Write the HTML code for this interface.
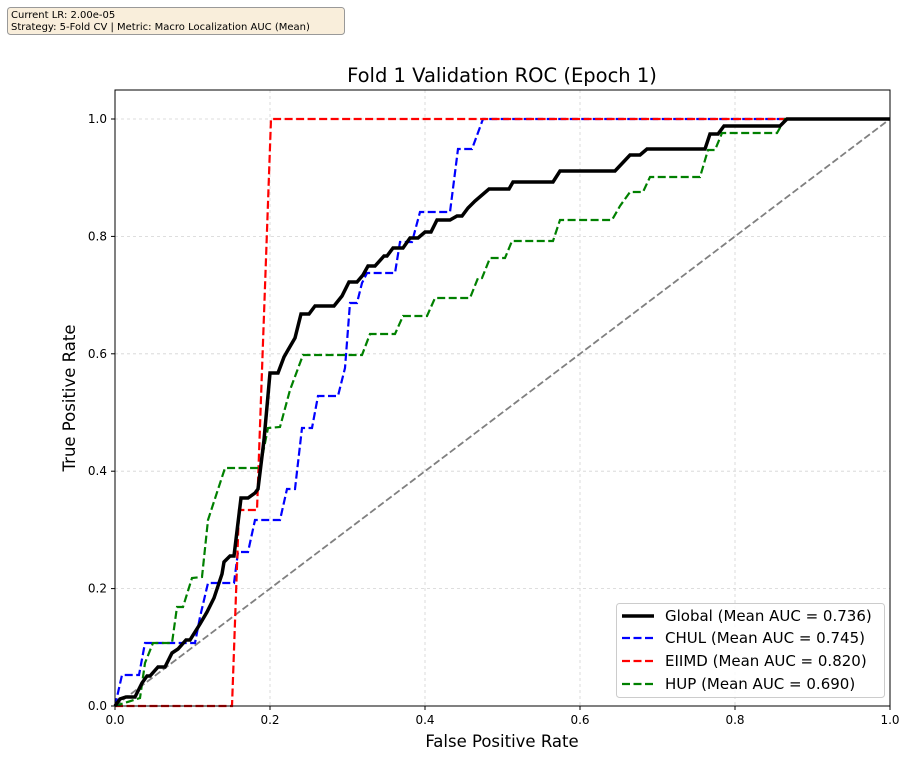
<!DOCTYPE html>
<html><head><meta charset="utf-8"><style>body{margin:0;background:#fff}svg{display:block;font-family:"DejaVu Sans","Liberation Sans",sans-serif}</style></head><body>
<svg width="911" height="760" viewBox="0 0 911 760" xmlns="http://www.w3.org/2000/svg">
<rect x="0" y="0" width="911" height="760" fill="#fff"/>
<rect x="7.5" y="7.5" width="337" height="27" rx="3" fill="#f9eedb" stroke="#999" stroke-width="1"/>
<text x="11" y="18" font-size="10">Current LR: 2.00e-05</text>
<text x="11" y="30" font-size="10">Strategy: 5-Fold CV | Metric: Macro Localization AUC (Mean)</text>
<text x="502" y="82" font-size="19.5" text-anchor="middle">Fold 1 Validation ROC (Epoch 1)</text>
<g stroke="#d3d3d3" stroke-width="0.8" stroke-dasharray="3,3">
<line x1="270" y1="90" x2="270" y2="706"/><line x1="425" y1="90" x2="425" y2="706"/><line x1="580" y1="90" x2="580" y2="706"/><line x1="735" y1="90" x2="735" y2="706"/>
<line x1="115" y1="588.6" x2="890" y2="588.6"/><line x1="115" y1="471.2" x2="890" y2="471.2"/><line x1="115" y1="353.8" x2="890" y2="353.8"/><line x1="115" y1="236.4" x2="890" y2="236.4"/><line x1="115" y1="119" x2="890" y2="119"/>
</g>
<line x1="115" y1="706" x2="890" y2="119" stroke="#808080" stroke-width="1.8" stroke-dasharray="7,3"/>
<polyline fill="none" stroke="#0000ff" stroke-width="2.2" stroke-dasharray="8,3.5" points="115,706 122,675 139,675 145,643 195,643 200,617 208,583 234,583 238,552 248,552 255,520 280,520 287,489 295,489 302,428 312,428 318,396 338,396 345,368 350,303 357,303 362,283 367,273 395,273 400,242 412,242 420,212 450,212 458,149 472,149 483,119 890,119"/>
<polyline fill="none" stroke="#ff0000" stroke-width="2.2" stroke-dasharray="8,3.5" points="115,706 232,706 239,510 257,510 271,119 890,119"/>
<polyline fill="none" stroke="#008000" stroke-width="2.2" stroke-dasharray="8,3.5" points="115,706 140,698 145,663 153,643 172,643 177,607 183,607 192,578 202,577 208,520 225,468 260,468 268,428 280,427 290,390 303,355 362,355 370,334 395,334 403,316 427,316 435,298 470,298 478,278 482,278 490,258 505,258 512,241 553,241 560,220 612,220 620,206 630,192 643,192 650,177 700,177 708,150 715,150 722,133 777,133 785,119 890,119"/>
<polyline fill="none" stroke="#000" stroke-width="3.5" points="115,706 120,699 126,697 135,697 142,683 147,676 150,676 158,667 165,667 172,653 178,649 186,640 190,640 200,624 207,612 214,598 222,574 224,562 230,556 234,556 241,498 248,498 255,493 258,489 264,440 270,373 278,373 284,357 288,350 295,338 301,314 309,314 315,306 324,306 334,306 342,296 349,282 357,282 363,275 368,266 375,266 384,256 387,256 393,248 403,248 410,238 418,238 425,232 431,232 437,220 450,220 457,216 462,216 468,208 475,201 489,189 509,189 513,182 553,182 560,171 615,171 630,155 640,155 647,149 705,149 710,134 718,134 724,126 780,126 787,119 890,119"/>
<rect x="115" y="90" width="775" height="616" fill="none" stroke="#000" stroke-width="1"/>
<g stroke="#000" stroke-width="1">
<line x1="115" y1="706" x2="115" y2="710"/><line x1="270" y1="706" x2="270" y2="710"/><line x1="425" y1="706" x2="425" y2="710"/><line x1="580" y1="706" x2="580" y2="710"/><line x1="735" y1="706" x2="735" y2="710"/><line x1="890" y1="706" x2="890" y2="710"/>
<line x1="111" y1="706" x2="115" y2="706"/><line x1="111" y1="588.6" x2="115" y2="588.6"/><line x1="111" y1="471.2" x2="115" y2="471.2"/><line x1="111" y1="353.8" x2="115" y2="353.8"/><line x1="111" y1="236.4" x2="115" y2="236.4"/><line x1="111" y1="119" x2="115" y2="119"/>
</g>
<g font-size="12" text-anchor="middle">
<text x="115" y="724">0.0</text><text x="270" y="724">0.2</text><text x="425" y="724">0.4</text><text x="580" y="724">0.6</text><text x="735" y="724">0.8</text><text x="890" y="724">1.0</text>
</g>
<g font-size="12" text-anchor="end">
<text x="107" y="710">0.0</text><text x="107" y="592.6">0.2</text><text x="107" y="475.2">0.4</text><text x="107" y="357.8">0.6</text><text x="107" y="240.4">0.8</text><text x="107" y="123">1.0</text>
</g>
<text x="502" y="747" font-size="16.5" text-anchor="middle">False Positive Rate</text>
<text transform="translate(75,398) rotate(-90)" font-size="16.5" text-anchor="middle">True Positive Rate</text>
<rect x="616.5" y="603.5" width="268" height="94" rx="3" fill="#fff" fill-opacity="0.85" stroke="#ccc"/>
<line x1="622" y1="616" x2="654" y2="616" stroke="#000" stroke-width="3.5"/>
<line x1="622" y1="638" x2="654" y2="638" stroke="#0000ff" stroke-width="2.2" stroke-dasharray="8,3.5"/>
<line x1="622" y1="661" x2="654" y2="661" stroke="#ff0000" stroke-width="2.2" stroke-dasharray="8,3.5"/>
<line x1="622" y1="684" x2="654" y2="684" stroke="#008000" stroke-width="2.2" stroke-dasharray="8,3.5"/>
<g font-size="15">
<text x="665" y="621">Global (Mean AUC = 0.736)</text>
<text x="665" y="643">CHUL (Mean AUC = 0.745)</text>
<text x="665" y="666">EIIMD (Mean AUC = 0.820)</text>
<text x="665" y="689">HUP (Mean AUC = 0.690)</text>
</g>
</svg>
</body></html>
